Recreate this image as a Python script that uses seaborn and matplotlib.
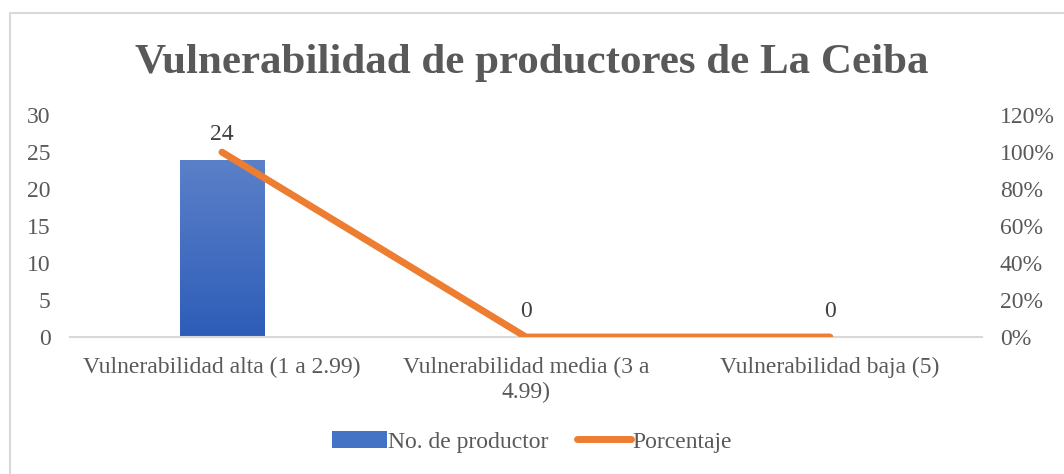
import numpy as np
import matplotlib
matplotlib.use("Agg")
import matplotlib.pyplot as plt
import seaborn as sns
from matplotlib.lines import Line2D
from matplotlib.patches import Patch

categorias = ["Vulnerabilidad alta (1 a 2.99)", "Vulnerabilidad media (3 a\n4.99)", "Vulnerabilidad baja (5)"]
productores = [24, 0, 0]
porcentaje = [100, 0, 0]
y_ticks = [0, 5, 10, 15, 20, 25, 30]
pct_ticks = [0, 20, 40, 60, 80, 100, 120]

sns.set_theme(style="white")
plt.rcParams["font.family"] = ["Liberation Serif", "DejaVu Serif"]

gris = "#595959"
azul = "#4472C4"
naranja = "#ED7D31"
fs = 17

fig = plt.figure(figsize=(10.64, 4.74), dpi=100)
ax = fig.add_axes([0.0658, 0.289, 0.857, 0.468])

sns.barplot(x=list(range(3)), y=productores, color=azul, width=0.277, ax=ax, saturation=1)
ax.set_xlim(-0.5, 2.5)
ax.set_ylim(0, 30)
ax.set_yticks(y_ticks)
ax.set_xticks(range(3))
ax.set_xticklabels(categorias, fontsize=fs, color=gris, linespacing=1.25)
ax.tick_params(axis="y", labelsize=fs, labelcolor=gris, length=0, pad=14)
ax.tick_params(axis="x", length=0, pad=14)
for s in ["top", "right", "left"]:
    ax.spines[s].set_visible(False)
ax.spines["bottom"].set_color("#D9D9D9")
ax.spines["bottom"].set_linewidth(1.5)

# gradient on bar
cmap = matplotlib.colors.LinearSegmentedColormap.from_list("g", ["#2E5DB8", "#5B80C9"])
for p in ax.patches:
    x0, w, h = p.get_x(), p.get_width(), p.get_height()
    if h > 0:
        grad = np.linspace(0, 1, 100).reshape(-1, 1)
        im = ax.imshow(grad, extent=[x0, x0 + w, 0, h], origin="lower", cmap=cmap, aspect="auto", zorder=p.get_zorder())
        im.set_clip_path(p)
ax.set_xlim(-0.5, 2.5)
ax.set_ylim(0, 30)

for i, v in enumerate(productores):
    ax.text(i, v + 2.0, str(v), ha="center", va="bottom", fontsize=fs, color="#404040")

ax2 = ax.twinx()
sns.lineplot(x=list(range(3)), y=porcentaje, color=naranja, linewidth=5, ax=ax2, solid_capstyle="round")
ax2.set_ylim(0, 120)
ax2.set_yticks(pct_ticks)
ax2.set_yticklabels([f"{t}%" for t in pct_ticks])
ax2.tick_params(axis="y", labelsize=fs, labelcolor=gris, length=0, pad=13)
for s in ["top", "right", "left", "bottom"]:
    ax2.spines[s].set_visible(False)
ax2.set_xlim(-0.5, 2.5)

fig.text(0.5, 0.868, "Vulnerabilidad de productores de La Ceiba", ha="center", va="center",
         fontsize=31, fontweight="bold", color=gris)

handles = [Patch(facecolor=azul, edgecolor="none"),
           Line2D([0], [0], color=naranja, linewidth=5, solid_capstyle="round")]
fig.legend(handles, ["No. de productor", "Porcentaje"], loc="center", bbox_to_anchor=(0.5, 0.068),
           ncol=2, frameon=False, fontsize=fs, handlelength=2.3, handletextpad=0.05, columnspacing=1.2,
           labelcolor=gris)

# chart border (left and top visible)
fig.add_artist(Line2D([0.009, 0.009], [0, 0.973], color="#D9D9D9", linewidth=1.5, transform=fig.transFigure))
fig.add_artist(Line2D([0.009, 1], [0.973, 0.973], color="#D9D9D9", linewidth=1.5, transform=fig.transFigure))

fig.savefig("out.png", dpi=100)
